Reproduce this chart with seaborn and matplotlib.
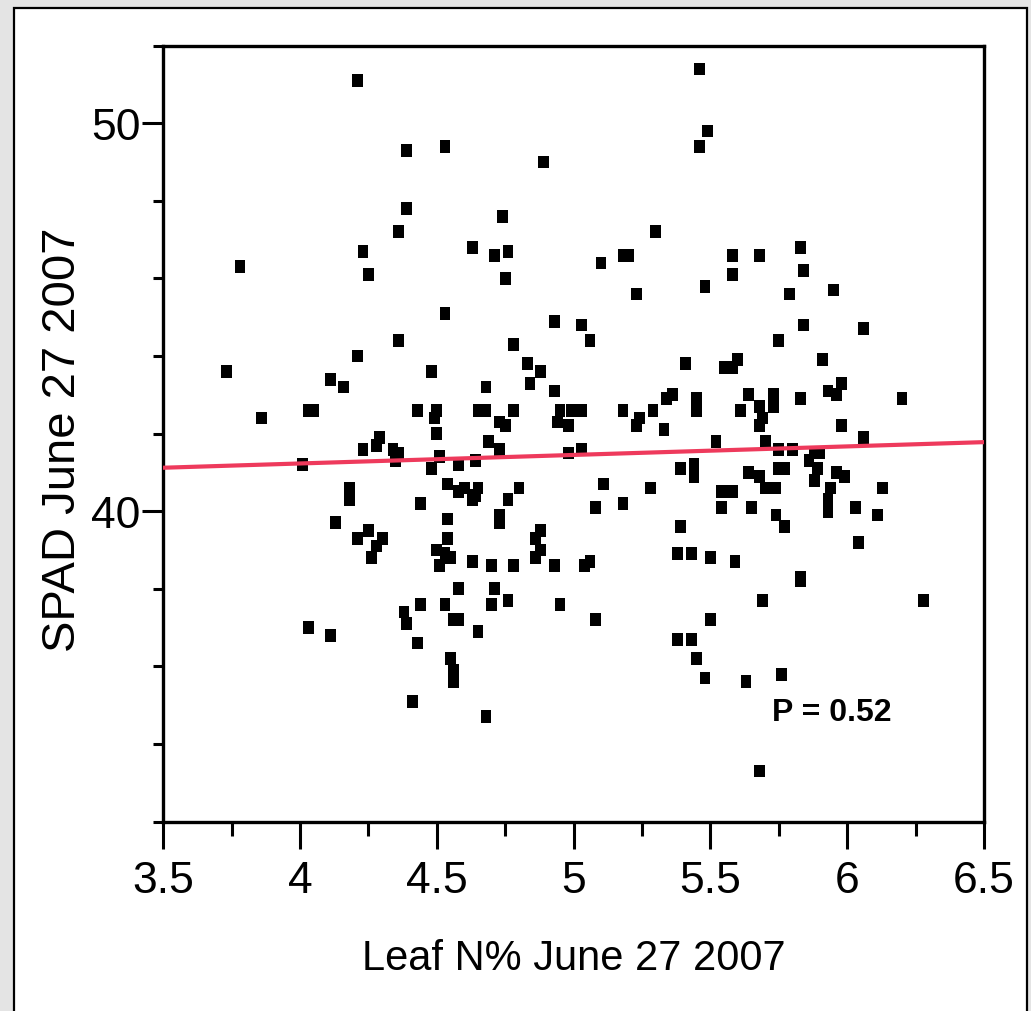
import matplotlib
matplotlib.use("Agg")
import matplotlib.pyplot as plt
from matplotlib.patches import Rectangle
from matplotlib.ticker import MultipleLocator
import seaborn as sns

# Leaf nitrogen (%) and SPAD readings, 27 June 2007
leaf_n = [
    4.21, 4.39, 4.53, 4.89, 4.39, 4.74, 4.36, 4.23, 4.63, 4.71, 4.76, 3.78, 4.25, 4.75,
    4.53, 4.93, 4.36, 4.78, 4.21, 3.73, 4.48, 4.83, 4.88, 4.11, 4.16, 4.68, 4.84, 4.93,
    3.86, 4.03, 4.05, 4.43, 4.50, 4.49, 4.65, 4.68, 4.73, 4.75, 4.78, 4.95, 4.99, 4.94,
    4.98,
    4.29, 4.28, 4.23, 4.50, 4.69, 4.73, 4.34, 4.36, 4.35, 4.01, 4.51, 4.48, 4.58, 4.64,
    4.98, 4.18, 4.18, 4.54, 4.58, 4.60, 4.65, 4.63, 4.64, 4.44, 4.76, 4.80, 4.73, 4.73,
    4.13, 4.54, 4.21, 4.25, 4.30, 4.28, 4.26, 4.54, 4.50, 4.53, 4.55, 4.51, 4.63, 4.70,
    4.78, 4.88, 4.86, 4.88, 4.86, 4.93, 4.58, 4.71, 4.44, 4.53, 4.70, 4.76, 4.95, 4.38,
    4.39, 4.56, 4.58, 4.03, 4.11, 4.65, 4.43, 4.55, 4.56, 4.56, 4.41, 4.68,
    5.46, 5.49, 5.46, 5.30, 5.10, 5.18, 5.20, 5.58, 5.58, 5.68, 5.83, 5.84, 5.23, 5.48,
    5.79, 5.95, 5.03, 5.06, 5.84, 5.75, 6.06, 5.41, 5.55, 5.58, 5.60, 5.91, 5.98, 5.93,
    5.96, 5.36, 5.34, 5.45, 5.45, 5.64, 5.73, 5.73, 5.68, 5.69, 5.68, 5.83, 6.20, 5.03,
    5.18, 5.24, 5.29, 5.23, 5.33, 5.61, 5.98, 6.06,
    5.03, 5.52, 5.70, 5.75, 5.80, 5.88, 5.90, 5.86, 5.89, 5.39, 5.44, 5.44, 5.75, 5.77,
    5.64, 5.68, 5.96, 5.99, 5.88, 5.11, 5.28, 5.70, 5.74, 5.94, 6.13, 5.08, 5.18, 5.54,
    5.58, 5.54, 5.65, 5.74, 5.93, 5.93, 6.03, 6.11, 5.39, 5.77, 6.04, 5.04, 5.06, 5.38,
    5.43, 5.50, 5.59, 5.83, 5.83, 5.69, 6.28, 5.08, 5.50, 5.38, 5.43, 5.45, 5.48, 5.63,
    5.76, 5.68,
]
spad = [
    51.1, 49.3, 49.4, 49.0, 47.8, 47.6, 47.2, 46.7, 46.8, 46.6, 46.7, 46.3, 46.1, 46.0,
    45.1, 44.9, 44.4, 44.3, 44.0, 43.6, 43.6, 43.8, 43.6, 43.4, 43.2, 43.2, 43.3, 43.1,
    42.4, 42.6, 42.6, 42.6, 42.6, 42.4, 42.6, 42.6, 42.3, 42.2, 42.6, 42.6, 42.6, 42.3,
    42.2,
    41.9, 41.7, 41.6, 42.0, 41.8, 41.6, 41.6, 41.5, 41.3, 41.2, 41.4, 41.1, 41.2, 41.3,
    41.5, 40.6, 40.3, 40.7, 40.5, 40.6, 40.6, 40.3, 40.4, 40.2, 40.3, 40.6, 39.9, 39.7,
    39.7, 39.8, 39.3, 39.5, 39.3, 39.1, 38.8, 39.3, 39.0, 38.9, 38.8, 38.6, 38.7, 38.6,
    38.6, 39.5, 39.3, 39.0, 38.8, 38.6, 38.0, 38.0, 37.6, 37.6, 37.6, 37.7, 37.6, 37.4,
    37.1, 37.2, 37.2, 37.0, 36.8, 36.9, 36.6, 36.2, 35.9, 35.6, 35.1, 34.7,
    51.4, 49.8, 49.4, 47.2, 46.4, 46.6, 46.6, 46.6, 46.1, 46.6, 46.8, 46.2, 45.6, 45.8,
    45.6, 45.7, 44.8, 44.4, 44.8, 44.4, 44.7, 43.8, 43.7, 43.7, 43.9, 43.9, 43.3, 43.1,
    43.0, 43.0, 42.9, 42.9, 42.6, 43.0, 43.0, 42.7, 42.7, 42.4, 42.2, 42.9, 42.9, 42.6,
    42.6, 42.4, 42.6, 42.2, 42.1, 42.6, 42.2, 41.9,
    41.6, 41.8, 41.8, 41.6, 41.6, 41.5, 41.5, 41.3, 41.1, 41.1, 41.2, 40.9, 41.1, 41.1,
    41.0, 40.9, 41.0, 40.9, 40.8, 40.7, 40.6, 40.6, 40.6, 40.6, 40.6, 40.1, 40.2, 40.5,
    40.5, 40.1, 40.1, 39.9, 40.3, 40.0, 40.1, 39.9, 39.6, 39.6, 39.2, 38.6, 38.7, 38.9,
    38.9, 38.8, 38.7, 38.3, 38.2, 37.7, 37.7, 37.2, 37.2, 36.7, 36.7, 36.2, 35.7, 35.6,
    35.8, 33.3,
]

# Fitted trend line at the ends of the x range
trend_x = [3.5, 6.5]
trend_y = [41.12, 41.78]

x_ticks = [3.5, 4.0, 4.5, 5.0, 5.5, 6.0, 6.5]
x_tick_labels = ["3.5", "4", "4.5", "5", "5.5", "6", "6.5"]
y_ticks = [40, 50]
y_tick_labels = ["40", "50"]
p_label = "P = 0.52"

sns.set_theme(style="ticks")
plt.rcParams["font.family"] = ["Liberation Sans", "DejaVu Sans"]

W, H = 1031, 1012
fig = plt.figure(figsize=(W / 100, H / 100), dpi=100, facecolor="#e4e4e4")

# white card with a thin black frame
fig.add_artist(Rectangle((13.5 / W, -0.02), (1027 - 13.5) / W, 1 - 9 / H + 0.02,
                         transform=fig.transFigure, facecolor="white",
                         edgecolor="black", linewidth=1.6, zorder=0))

ax = fig.add_axes([163.3 / W, 1 - 822.5 / H, 820.7 / W, 775.8 / H])
ax.set_facecolor("white")

tall_square = [(-0.42, -0.5), (0.42, -0.5), (0.42, 0.5), (-0.42, 0.5), (-0.42, -0.5)]
sns.scatterplot(x=leaf_n, y=spad, marker=tall_square, s=85, color="black",
                edgecolor="none", linewidth=0, ax=ax, zorder=2, legend=False)
sns.lineplot(x=trend_x, y=trend_y, color="#ee3a5c", linewidth=3.0, ax=ax,
             zorder=3, legend=False)

ax.set_xlim(3.5, 6.5)
ax.set_ylim(32, 52)
ax.set_xticks(x_ticks)
ax.set_xticklabels(x_tick_labels)
ax.set_yticks(y_ticks)
ax.set_yticklabels(y_tick_labels)
ax.xaxis.set_minor_locator(MultipleLocator(0.25))
ax.yaxis.set_minor_locator(MultipleLocator(2))

for s in ax.spines.values():
    s.set_visible(True)
    s.set_color("black")
    s.set_linewidth(2.4)

ax.tick_params(axis="x", which="major", direction="out", length=19.5, width=2.2,
               pad=8, labelsize=32, colors="black")
ax.tick_params(axis="x", which="minor", direction="out", length=10, width=2.2,
               colors="black")
ax.tick_params(axis="y", which="major", direction="out", length=15, width=2.2,
               pad=1.5, labelsize=32, colors="black")
ax.tick_params(axis="y", which="minor", direction="out", length=7.5, width=2.2,
               colors="black")

ax.set_xlabel("Leaf N% June 27 2007", fontsize=30, color="black")
ax.xaxis.set_label_coords(0.5, -0.15)
ax.set_ylabel("SPAD June 27 2007", fontsize=34, color="black")
ax.yaxis.set_label_coords(-0.095, 0.494)

ax.text(5.725, 34.61, p_label, fontsize=23, fontweight="bold", color="black",
        va="baseline", ha="left")

fig.savefig("out.png", dpi=100, facecolor=fig.get_facecolor())
